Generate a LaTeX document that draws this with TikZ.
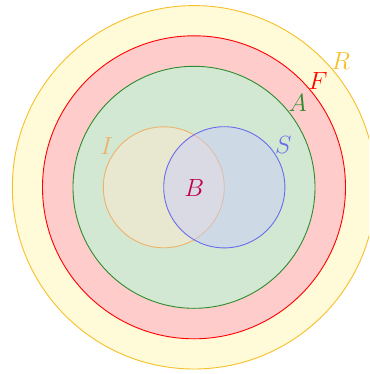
\documentclass[tikz,border=0pt]{standalone}
\definecolor{rstroke}{HTML}{F7C02A}
\definecolor{rfill}{HTML}{FFFAD7}
\definecolor{ffill}{HTML}{FFCCCC}
\definecolor{fstroke}{HTML}{FF0000}
\definecolor{afill}{HTML}{D2E8D2}
\definecolor{astroke}{HTML}{2E8B2E}
\definecolor{ifill}{HTML}{E8E8D1}
\definecolor{istroke}{HTML}{EDB36B}
\definecolor{sfill}{HTML}{C9CBFF}
\definecolor{sstroke}{HTML}{6B6BEB}
\definecolor{btext}{HTML}{C0004A}
\tikzset{
  ring/.style={line width=0.9pt},
  lab/.style={inner sep=0pt, font=\fontsize{24}{28}\selectfont}
}
\begin{document}
\begin{tikzpicture}[x=1pt,y=-1pt]
\useasboundingbox (0,0) rectangle (369,374);
\clip (0,0) rectangle (369,374);
\coordinate (c) at (194,187.3);
\draw[ring, draw=rstroke, fill=rfill] (c) circle[radius=181.7];
\draw[ring, draw=fstroke, fill=ffill] (c) circle[radius=151.5];
\draw[ring, draw=astroke, fill=afill] (c) circle[radius=121];
\coordinate (ci) at (163.8,187.3);
\coordinate (cs) at (224.3,187.3);
\draw[ring, draw=istroke, fill=ifill] (ci) circle[radius=60.5];
\fill[sfill, opacity=0.45] (cs) circle[radius=60.6];
\draw[ring, draw=sstroke] (cs) circle[radius=60.6];
\node[lab, text=rstroke] (R) at (340.7,60.7) {$R$};
\node[lab, text=fstroke] (F) at (318,81) {$F$};
\node[lab, text=astroke] (A) at (297.7,103.3) {$A$};
\node[lab, text=istroke] (I) at (106.7,145.7) {$I$};
\node[lab, text=sstroke] (S) at (283.3,145) {$S$};
\node[lab, text=btext] (B) at (194.3,187.7) {$B$};
\end{tikzpicture}
\end{document}
